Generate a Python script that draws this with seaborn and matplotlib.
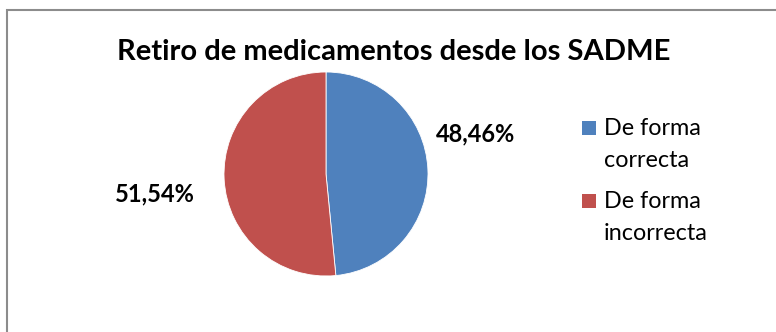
import matplotlib
matplotlib.use("Agg")
import matplotlib.pyplot as plt
import seaborn as sns
from matplotlib.patches import Rectangle

categories = ["De forma\ncorrecta", "De forma\nincorrecta"]
values = [48.46, 51.54]
value_labels = ["48,46%", "51,54%"]
colors = ["#4F81BD", "#C0504D"]
title = "Retiro de medicamentos desde los SADME"

sns.set_theme(style="white")
plt.rcParams["font.family"] = ["Lato", "DejaVu Sans"]

W, H = 776, 332
fig = plt.figure(figsize=(W / 100, H / 100), dpi=100)
fig.patch.set_facecolor("white")

def fx(px):
    return px / W

def fy(py):
    return 1 - py / H

# chart border
fig.patches.append(Rectangle((fx(6.5), -0.1), 2, fy(9.5) + 0.1,
                             transform=fig.transFigure, fill=False,
                             edgecolor="#8C8C8C", linewidth=1.5))

cx, cy, r = 326, 174, 102
ax = fig.add_axes([fx(cx - r), fy(cy + r), 2 * r / W, 2 * r / H])
ax.pie(values, colors=colors, startangle=90, counterclock=False,
       radius=1.0, wedgeprops=dict(linewidth=0.6, edgecolor="white"))
ax.set_xlim(-1, 1)
ax.set_ylim(-1, 1)
ax.set_aspect("equal")
ax.axis("off")

fig.text(fx(393.5), fy(60), title, ha="center", va="baseline",
         fontsize=21, fontweight="bold", color="black")

label_pos = [(476, 141.5), (154.5, 201.5)]
for lab, (px, py) in zip(value_labels, label_pos):
    fig.text(fx(px), fy(py), lab, ha="center", va="baseline",
             fontsize=17, fontweight="bold", color="black")

# legend: square aligned with the first line of each entry
entry_baselines = [135, 208]
line_gap = 32
for cat, col, base in zip(categories, colors, entry_baselines):
    fig.patches.append(Rectangle((fx(582), fy(base)), 14 / W, 14 / H,
                                 transform=fig.transFigure, facecolor=col,
                                 edgecolor="none"))
    for i, line in enumerate(cat.split("\n")):
        fig.text(fx(604), fy(base + i * line_gap), line, ha="left",
                 va="baseline", fontsize=16.8, color="black")

fig.savefig("out.png", dpi=100, facecolor="white")
